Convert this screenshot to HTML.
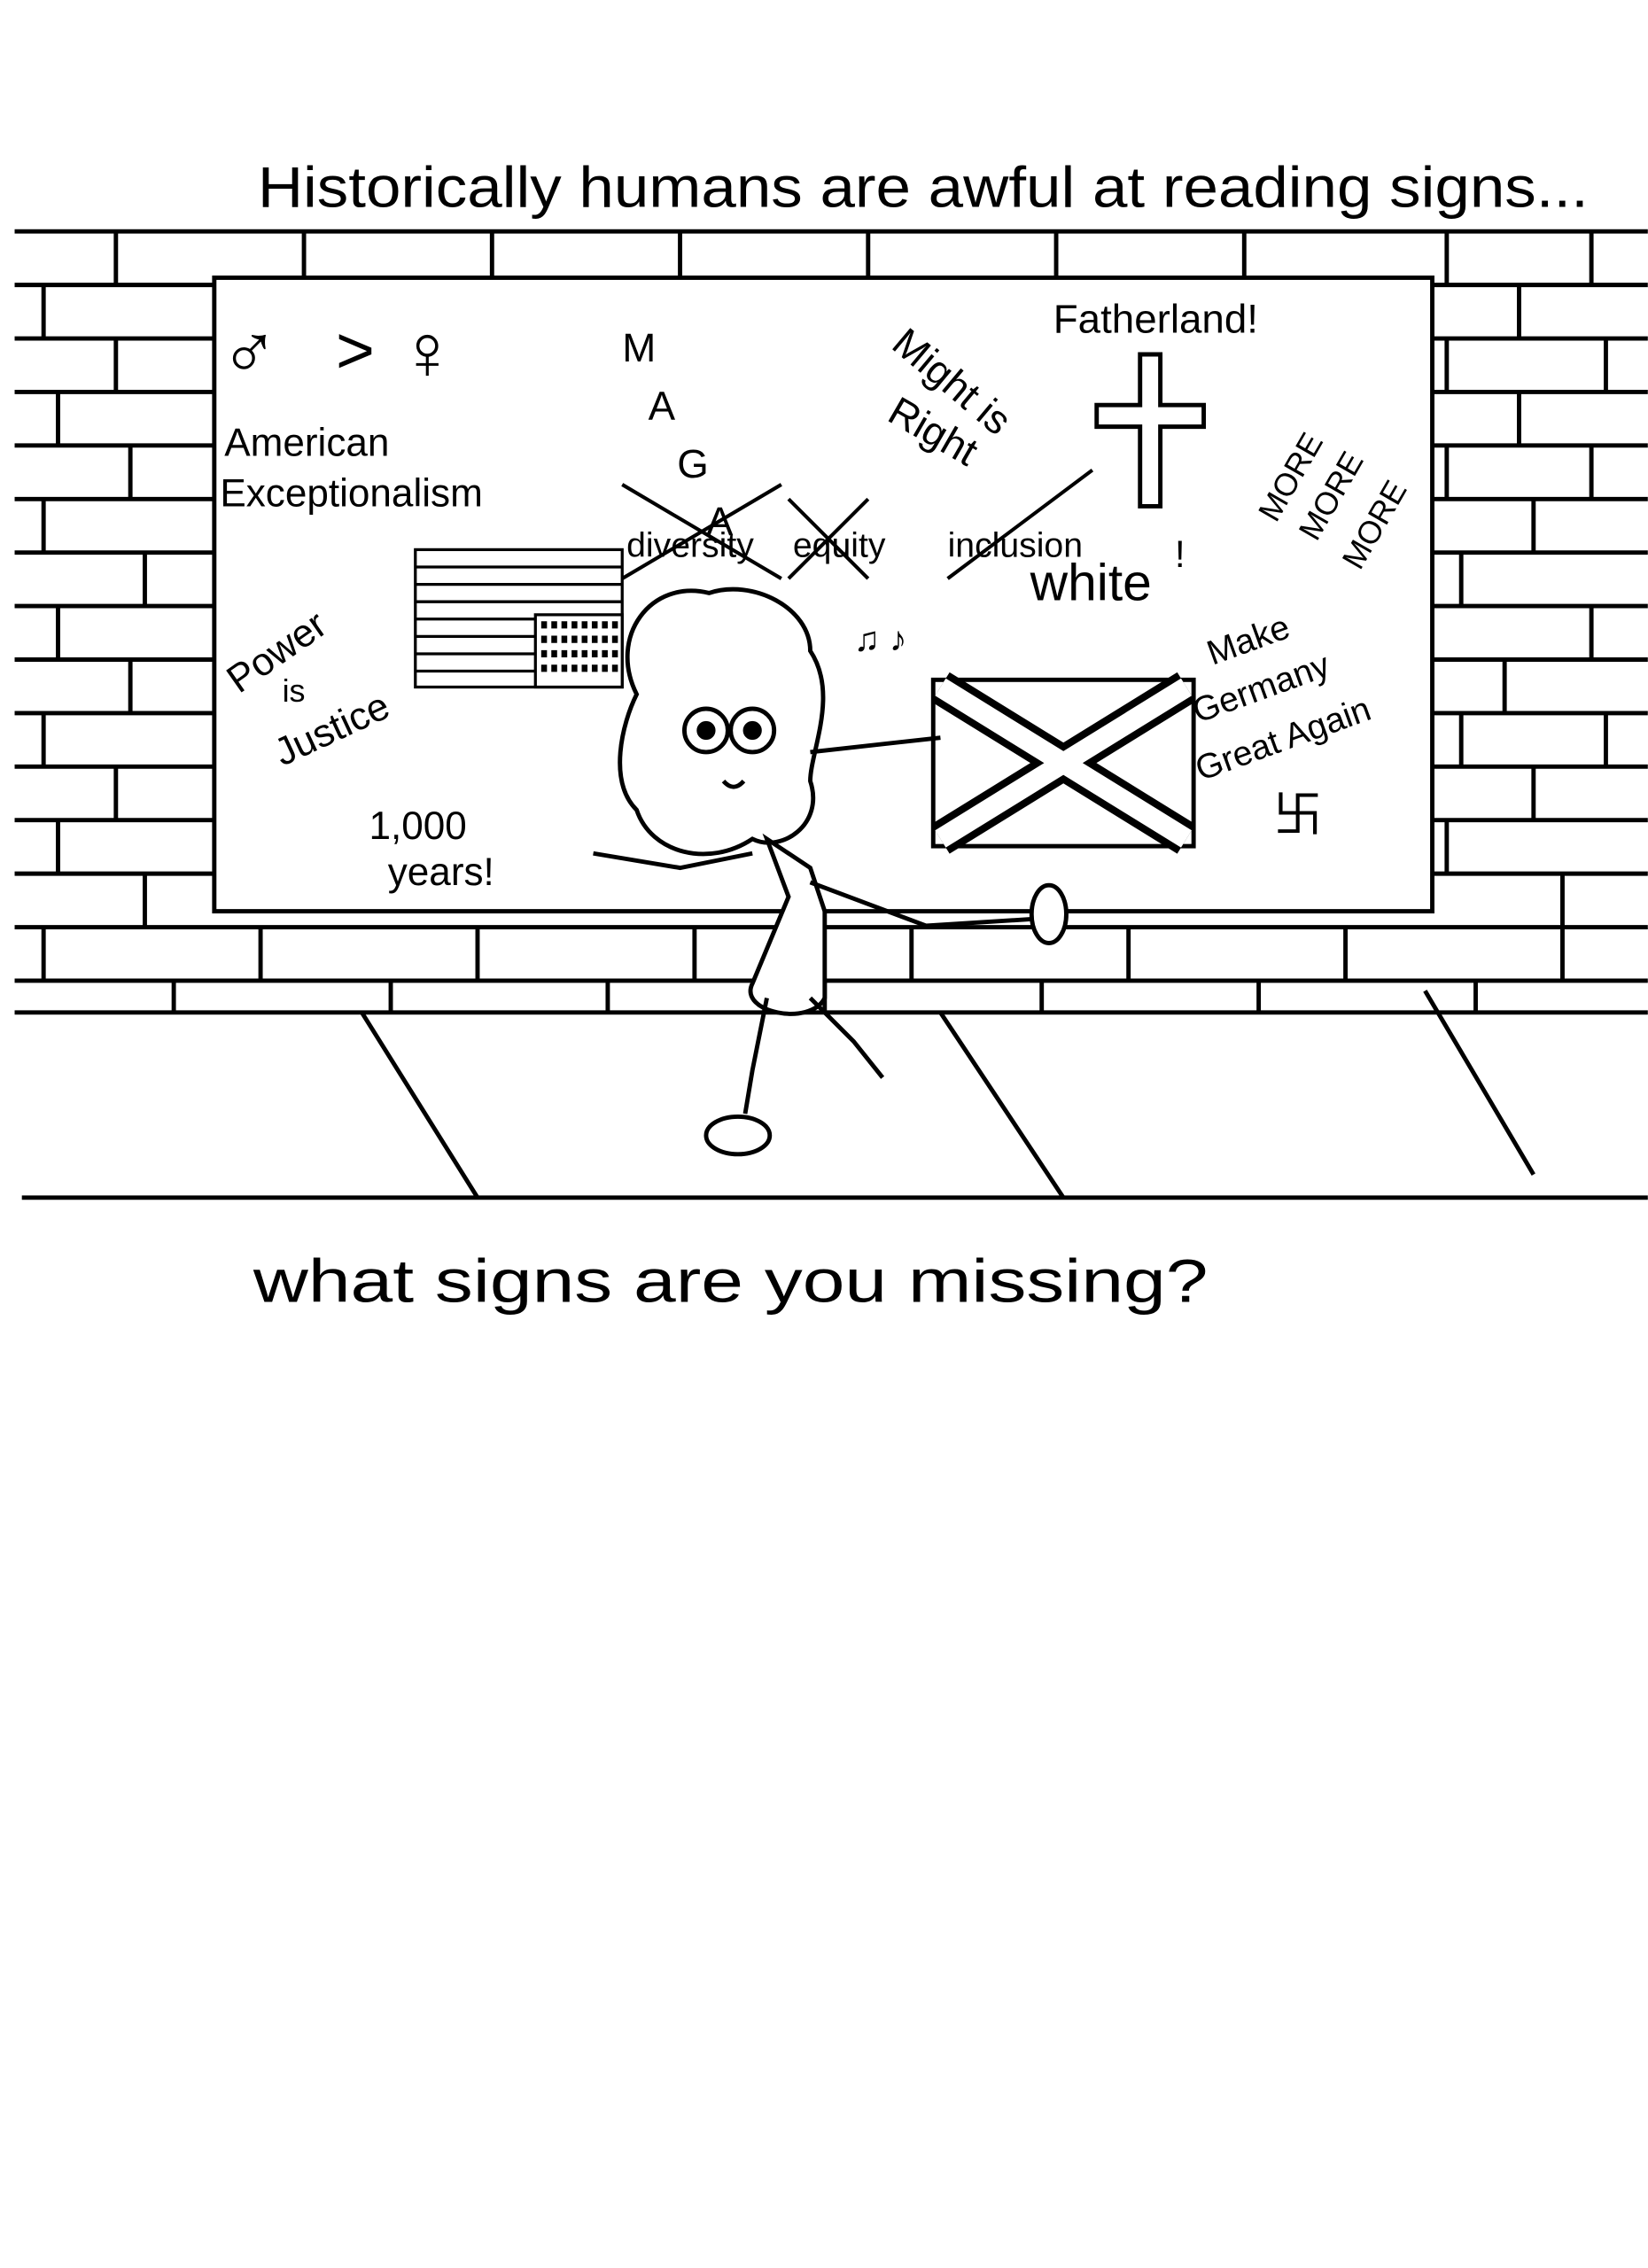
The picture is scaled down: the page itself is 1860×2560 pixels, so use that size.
<!DOCTYPE html>
<html><head><meta charset="utf-8"><style>
html,body{margin:0;padding:0;background:#fff}
svg{display:block}
text{font-family:"Liberation Sans",sans-serif;fill:#000}
</style></head><body>
<svg width="1860" height="2560" viewBox="0 0 1139 1568" xmlns="http://www.w3.org/2000/svg">
<rect width="1139" height="1568" fill="#fff"/>
<text x="178" y="143" font-size="40" textLength="920" lengthAdjust="spacingAndGlyphs">Historically humans are awful at reading signs...</text>
<g stroke="#000" stroke-width="3" fill="none">
<path d="M10 160H1139 M10 197H1139 M10 234H1139 M10 271H1139 M10 308H1139 M10 345H1139 M10 382H1139 M10 419H1139 M10 456H1139 M10 493H1139 M10 530H1139 M10 567H1139 M10 604H1139 M10 641H1139 M10 678H1139 M10 700H1139"/>
<path d="M80 160V197 M210 160V197 M340 160V197 M470 160V197 M600 160V197 M730 160V197 M860 160V197 M1000 160V197 M1100 160V197
M30 197V234 M1050 197V234 M80 234V271 M1000 234V271 M1110 234V271 M40 271V308 M1050 271V308 M90 308V345 M1000 308V345 M1100 308V345
M30 345V382 M1060 345V382 M100 382V419 M1010 382V419 M40 419V456 M1100 419V456 M90 456V493 M1040 456V493 M30 493V530 M1010 493V530 M1110 493V530
M80 530V567 M1060 530V567 M40 567V604 M1000 567V604 M100 604V641 M1080 604V641 M30 641V678 M180 641V678 M330 641V678 M480 641V678 M630 641V678 M780 641V678 M930 641V678 M1080 641V678
M120 678V700 M270 678V700 M420 678V700 M570 678V700 M720 678V700 M870 678V700 M1020 678V700"/>
</g>
<rect x="148" y="192" width="842" height="438" fill="#fff" stroke="#000" stroke-width="3"/>
<g stroke="#000" stroke-width="3" fill="none">
<path d="M250 700L330 828 M650 700L735 828 M985 685L1060 812 M15 828H1139"/>
</g>
<text x="152" y="262" font-size="54">♂</text>
<text x="232" y="258" font-size="46">&gt;</text>
<text x="275" y="262" font-size="54">♀</text>
<text x="728" y="230" font-size="28">Fatherland!</text>
<path d="M788 245H802V280H832V295H802V350H788V295H758V280H788Z" fill="#fff" stroke="#000" stroke-width="3"/>
<text x="430" y="250" font-size="28">M</text><text x="448" y="290" font-size="28">A</text><text x="468" y="330" font-size="28">G</text><text x="488" y="370" font-size="28">A</text>
<text x="0" y="0" font-size="28" transform="translate(615 240) rotate(40)">Might is</text>
<text x="0" y="0" font-size="28" transform="translate(612 290) rotate(30)">Right</text>
<text x="155" y="315" font-size="27">American</text>
<text x="152" y="350" font-size="27">Exceptionalism</text>
<text x="433" y="385" font-size="24">diversity</text>
<text x="548" y="385" font-size="24">equity</text>
<text x="655" y="385" font-size="24">inclusion</text>
<path d="M430 335L540 400 M430 400L540 335 M545 345L600 400 M545 400L600 345 M655 400L755 325" stroke="#000" stroke-width="2.5"/>
<text x="712" y="415" font-size="36">white</text>
<text x="812" y="392" font-size="26">!</text>
<text x="0" y="0" font-size="22" transform="translate(882 362) rotate(-60)">MORE</text>
<text x="0" y="0" font-size="22" transform="translate(910 375) rotate(-60)">MORE</text>
<text x="0" y="0" font-size="22" transform="translate(940 395) rotate(-60)">MORE</text>
<rect x="287" y="380" width="143" height="95" fill="#fff" stroke="#000" stroke-width="2"/>
<path d="M287 392H430 M287 404H430 M287 416H430 M287 428H430 M287 440H430 M287 452H430 M287 464H430" stroke="#000" stroke-width="2"/>
<rect x="370" y="425" width="60" height="50" fill="#fff" stroke="#000" stroke-width="2"/>
<path d="M374 432H428 M374 442H428 M374 452H428 M374 462H428" stroke="#000" stroke-width="5" stroke-dasharray="4 3"/>
<text x="0" y="0" font-size="27" transform="translate(165 480) rotate(-35)">Power</text>
<text x="195" y="485" font-size="22">is</text>
<text x="0" y="0" font-size="27" transform="translate(195 530) rotate(-25)">Justice</text>
<text x="255" y="580" font-size="27">1,000</text>
<text x="268" y="612" font-size="27">years!</text>
<rect x="645" y="470" width="180" height="115" fill="#fff" stroke="#000" stroke-width="3"/>
<path d="M650 475L820 580 M650 580L820 475" stroke="#000" stroke-width="24"/>
<path d="M650 475L820 580 M650 580L820 475" stroke="#fff" stroke-width="14"/>
<text x="0" y="0" font-size="24" transform="translate(838 460) rotate(-20)">Make</text>
<text x="0" y="0" font-size="24" transform="translate(828 500) rotate(-20)">Germany</text>
<text x="0" y="0" font-size="24" transform="translate(830 540) rotate(-20)">Great Again</text>
<text x="880" y="575" font-size="34">卐</text>
<text x="590" y="450" font-size="24">♫ ♪</text>
<g stroke="#000" stroke-width="3" fill="#fff">
<path d="M440 480C420 440 450 400 490 410C520 400 560 420 560 450C580 480 560 520 560 540C570 570 540 590 520 580C490 600 450 590 440 560C420 540 430 500 440 480Z"/>
<circle cx="488" cy="505" r="15"/><circle cx="520" cy="505" r="15"/>
<circle cx="488" cy="505" r="5" fill="#000"/><circle cx="520" cy="505" r="5" fill="#000"/>
<path d="M500 540Q507 548 514 540" fill="none"/>
<path d="M530 580L545 620L520 680C510 700 560 710 570 690L570 630L560 600Z"/>
<path d="M520 590L470 600L410 590 M560 610L640 640L720 635" fill="none"/>
<path d="M530 690L520 740L515 770 M560 690L590 720L610 745" fill="none"/>
<ellipse cx="510" cy="785" rx="22" ry="13"/>
<ellipse cx="725" cy="632" rx="12" ry="20"/>
<path d="M560 520L650 510" fill="none"/>
</g>
<text x="175" y="900" font-size="42" textLength="660" lengthAdjust="spacingAndGlyphs">what signs are you missing?</text>
</svg>
</body></html>
